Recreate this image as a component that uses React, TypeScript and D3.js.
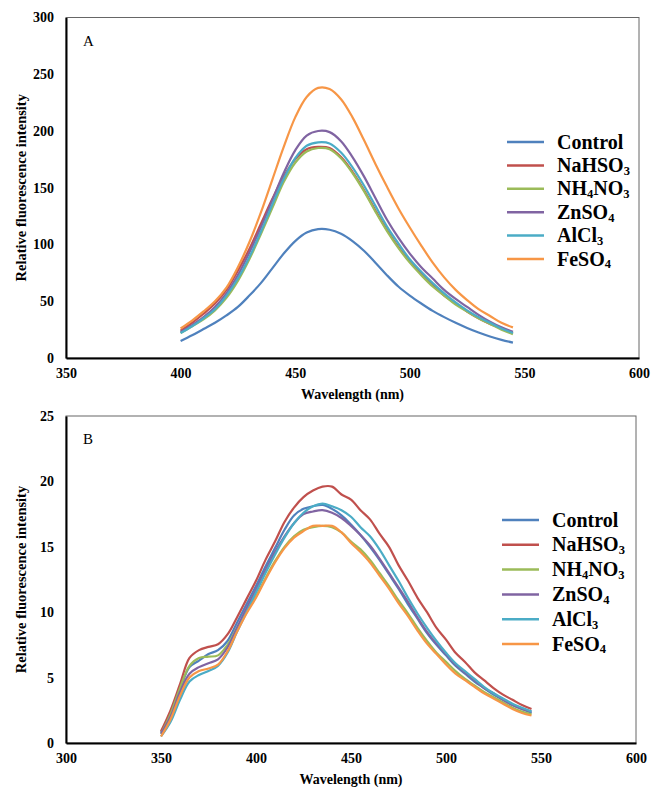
import React, { useEffect, useRef } from "react";
import * as d3 from "d3";

const seriesNames = ["Control", "NaHSO3", "NH4NO3", "ZnSO4", "AlCl3", "FeSO4"];
const colors = ["#4F81BD", "#C0504D", "#9BBB59", "#8064A2", "#4BACC6", "#F79646"];

// panel A (400-545 nm, every 5 nm)
const wavelengthsA = d3.range(400, 546, 5);
const controlA = [15, 20, 25.5, 31, 37.5, 45, 55, 66, 79, 92, 103, 110.5, 113.5, 113, 109.5, 103, 94.5, 84, 73, 63, 55, 48, 41.5, 36, 31, 26.5, 22.5, 19, 16, 13.5];
const nahso3A = [24, 31, 39, 48, 60, 77, 96, 118, 140, 160, 175, 184, 186, 185, 177, 164, 148, 130, 113, 98, 85, 74, 64, 55, 48, 41, 35, 30, 26, 22];
const nh4no3A = [22, 28, 34, 42, 53, 68, 87, 109, 132, 155, 172, 182, 185, 184, 176, 163, 147, 129, 112, 97, 84, 73, 63, 55, 47, 41, 35, 30, 25, 21];
const znso4A = [23, 29, 36, 45, 57, 73, 93, 115, 139, 163, 183, 196, 200, 199, 191, 177, 160, 141, 122, 106, 92, 80, 70, 60, 52, 45, 38, 32, 27, 23];
const alcl3A = [22, 28, 35, 43, 55, 70, 89, 111, 135, 158, 176, 187, 190, 189, 181, 168, 152, 134, 116, 101, 87, 76, 66, 57, 49, 42, 36, 31, 26, 22];
const feso4A = [26, 33, 41, 50, 62, 80, 102, 128, 157, 186, 212, 230, 238, 237, 228, 212, 192, 171, 151, 132, 115, 99, 84, 71, 60, 51, 43, 37, 31, 27];

// panel B (350-545 nm, every 5 nm)
const wavelengthsB = d3.range(350, 546, 5);
const controlB = [0.8, 2.2, 4.1, 5.8, 6.3, 6.8, 7.1, 7.8, 9.2, 10.6, 12.0, 13.5, 14.9, 16.3, 17.4, 17.9, 18.1, 18.2, 17.9, 17.4, 16.7, 15.9, 15.0, 14.0, 12.9, 11.8, 10.6, 9.5, 8.4, 7.5, 6.7, 5.9, 5.3, 4.7, 4.2, 3.7, 3.3, 2.9, 2.6, 2.3];
const nahso3B = [0.9, 2.5, 4.5, 6.5, 7.1, 7.35, 7.55, 8.3, 9.6, 11.0, 12.4, 14.0, 15.4, 16.9, 18.0, 18.8, 19.3, 19.6, 19.6, 19.0, 18.6, 17.8, 17.1, 16.0, 15.0, 13.6, 12.4, 11.1, 10.0, 8.8, 7.9, 6.9, 6.2, 5.4, 4.8, 4.2, 3.7, 3.3, 2.9, 2.6];
const nh4no3B = [0.7, 2.2, 4.2, 5.9, 6.5, 6.6, 6.7, 7.5, 8.8, 10.0, 11.2, 12.6, 13.9, 15.0, 15.8, 16.3, 16.5, 16.6, 16.5, 16.1, 15.4, 14.8, 14.0, 13.0, 12.0, 10.9, 9.9, 8.8, 7.8, 6.9, 6.2, 5.5, 4.9, 4.4, 3.9, 3.5, 3.1, 2.7, 2.4, 2.2];
const znso4B = [0.7, 2.0, 3.9, 5.3, 5.8, 6.1, 6.4, 7.3, 8.8, 10.3, 11.7, 13.2, 14.6, 15.8, 16.8, 17.5, 17.7, 17.8, 17.6, 17.2, 16.6, 15.9, 15.1, 14.1, 13.0, 11.9, 10.8, 9.6, 8.5, 7.6, 6.8, 6.0, 5.4, 4.8, 4.2, 3.8, 3.3, 2.9, 2.6, 2.4];
const alcl3B = [0.5, 1.6, 3.3, 4.7, 5.2, 5.5, 5.9, 6.9, 8.5, 10.0, 11.5, 13.0, 14.4, 15.7, 16.8, 17.6, 18.1, 18.3, 18.1, 17.8, 17.3, 16.5, 15.8, 14.8, 13.6, 12.4, 11.1, 9.9, 8.8, 7.8, 6.9, 6.1, 5.5, 4.9, 4.3, 3.8, 3.4, 3.0, 2.7, 2.4];
const feso4B = [0.5, 1.8, 3.6, 5.0, 5.5, 5.7, 6.0, 7.0, 8.5, 9.9, 11.1, 12.5, 13.8, 14.9, 15.7, 16.2, 16.6, 16.6, 16.6, 16.1, 15.3, 14.6, 13.8, 12.8, 11.8, 10.7, 9.7, 8.6, 7.6, 6.8, 6.0, 5.3, 4.8, 4.3, 3.8, 3.4, 3.0, 2.6, 2.3, 2.1];

const xTicksA = [350, 400, 450, 500, 550, 600];
const yTicksA = [0, 50, 100, 150, 200, 250, 300];
const xTicksB = [300, 350, 400, 450, 500, 550, 600];
const yTicksB = [0, 5, 10, 15, 20, 25];

const FONT = "'Liberation Serif', 'Times New Roman', serif";

const panels = [
  {
    label: "A",
    wl: wavelengthsA,
    series: [controlA, nahso3A, nh4no3A, znso4A, alcl3A, feso4A],
    xDomain: [350, 600], yDomain: [0, 300],
    xTicks: xTicksA, yTicks: yTicksA,
    left: 66, right: 639, top: 17.5, bottom: 358,
    legendX: 507, legendY: 142, legendStep: 23.4,
  },
  {
    label: "B",
    wl: wavelengthsB,
    series: [controlB, nahso3B, nh4no3B, znso4B, alcl3B, feso4B],
    xDomain: [300, 600], yDomain: [0, 25],
    xTicks: xTicksB, yTicks: yTicksB,
    left: 66, right: 636, top: 416, bottom: 743,
    legendX: 502, legendY: 520, legendStep: 24.8,
  },
];

// split a formula like NH4NO3 into text / subscript parts
function formulaParts(name: string) {
  if (name === "Control") return [{ t: name, sub: false }];
  return name.split(/(\d)/).filter((s) => s).map((s) => ({ t: s, sub: /\d/.test(s) }));
}

const App = () => {
  const svgRef = useRef<SVGSVGElement>(null);

  useEffect(() => {
    const svg = d3.select(svgRef.current);
    svg.selectAll("*").remove();

    panels.forEach((p) => {
      const g = svg.append("g");
      const x = d3.scaleLinear().domain(p.xDomain).range([p.left, p.right]);
      const y = d3.scaleLinear().domain(p.yDomain).range([p.bottom, p.top]);

      // plot frame (top/right thin), axes (left/bottom dark)
      g.append("rect")
        .attr("x", p.left).attr("y", p.top)
        .attr("width", p.right - p.left).attr("height", p.bottom - p.top)
        .attr("fill", "none").attr("stroke", "#666").attr("stroke-width", 1);

      const yAxis = g.append("g")
        .attr("transform", `translate(${p.left},0)`)
        .call(d3.axisLeft(y).tickValues(p.yTicks).tickSize(0).tickPadding(12));
      yAxis.select(".domain").attr("stroke", "#000").attr("stroke-width", 2);
      yAxis.selectAll("text")
        .attr("font-family", FONT).attr("font-size", 14).attr("font-weight", "bold").attr("fill", "#000");

      const xAxis = g.append("g")
        .attr("transform", `translate(0,${p.bottom})`)
        .call(d3.axisBottom(x).tickValues(p.xTicks).tickSize(0).tickPadding(10));
      xAxis.select(".domain").attr("stroke", "#000").attr("stroke-width", 2);
      xAxis.selectAll("text")
        .attr("font-family", FONT).attr("font-size", 14).attr("font-weight", "bold").attr("fill", "#000");

      g.append("text")
        .attr("x", (p.left + p.right) / 2).attr("y", p.bottom + 41)
        .attr("text-anchor", "middle")
        .attr("font-family", FONT).attr("font-size", 14).attr("font-weight", "bold")
        .text("Wavelength (nm)");

      g.append("text")
        .attr("transform", `translate(${p.left - 40},${(p.top + p.bottom) / 2}) rotate(-90)`)
        .attr("text-anchor", "middle")
        .attr("font-family", FONT).attr("font-size", 14.5).attr("font-weight", "bold")
        .text("Relative fluorescence intensity");

      g.append("text")
        .attr("x", p.left + 17).attr("y", p.top + 28)
        .attr("font-family", FONT).attr("font-size", 15)
        .text(p.label);

      const line = d3.line<number>()
        .x((d, i) => x(p.wl[i]))
        .y((d) => y(d))
        .curve(d3.curveCatmullRom.alpha(0.5));

      p.series.forEach((vals, k) => {
        g.append("path")
          .datum(vals)
          .attr("d", line)
          .attr("fill", "none")
          .attr("stroke", colors[k])
          .attr("stroke-width", 2.2)
          .attr("stroke-linejoin", "round");
      });

      // legend
      seriesNames.forEach((name, k) => {
        const ly = p.legendY + k * p.legendStep;
        g.append("line")
          .attr("x1", p.legendX).attr("x2", p.legendX + 37)
          .attr("y1", ly).attr("y2", ly)
          .attr("stroke", colors[k]).attr("stroke-width", 2.5);
        const t = g.append("text")
          .attr("x", p.legendX + 50).attr("y", ly + 6.5)
          .attr("font-family", FONT).attr("font-size", 20).attr("font-weight", "bold");
        let shifted = false;
        formulaParts(name).forEach((part) => {
          if (part.sub) {
            t.append("tspan").attr("dy", 2.8).attr("font-size", 12.5).text(part.t);
            shifted = true;
          } else {
            t.append("tspan").attr("dy", shifted ? -2.8 : 0).text(part.t);
            shifted = false;
          }
        });
      });
    });
  }, []);

  return (
    <div>
      <svg
        ref={svgRef}
        width={651}
        height={790}
        style={{ position: "absolute", left: 0, top: 0, background: "#fff" }}
      ></svg>
    </div>
  );
};

export default App;
